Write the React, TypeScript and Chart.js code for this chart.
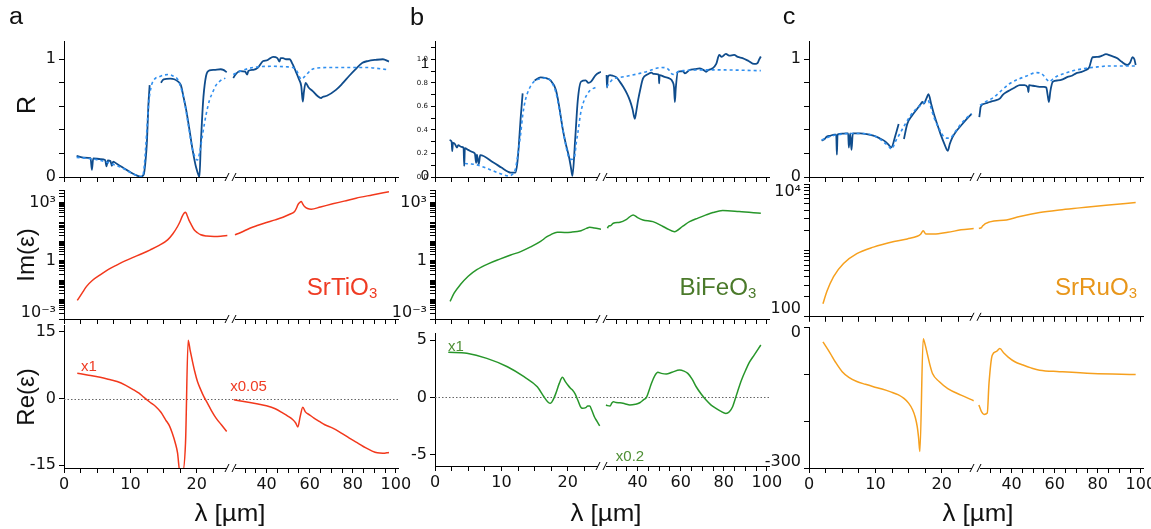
import React, { useEffect, useRef } from 'react';
import { Chart, registerables } from 'chart.js';

Chart.register(...registerables);

type Pt = [number, number | null];

// ---------------- axis ticks / labels ----------------
const X_LEFT_RANGE = [0, 25];
const X_RIGHT_RANGE = [23, 101];
const X_LEFT_TICKS = [0, 2.5, 5, 7.5, 10, 12.5, 15, 17.5, 20, 22.5];
const X_LEFT_LABELS = [0, 10, 20];
const X_RIGHT_TICKS = [30, 35, 40, 45, 50, 55, 60, 65, 70, 75, 80, 85, 90, 95, 100];
const X_RIGHT_LABELS = [40, 60, 80, 100];

const R_TICKS = [0, 0.2, 0.4, 0.6, 0.8, 1];
const R_LABELS = [0, 1];
const R_TICKS_FINE = [0, 0.1, 0.2, 0.3, 0.4, 0.5, 0.6, 0.7, 0.8, 0.9, 1, 1.1];
const R_LABELS_FINE = [0, 0.2, 0.4, 0.6, 0.8, 1];

const IM_LABEL_VALUES = [0.001, 1, 1000];
const IM_LABEL_TEXTS = ['10⁻³', '1', '10³'];
const IM_SRO_LABEL_VALUES = [100, 10000];
const IM_SRO_LABEL_TEXTS = ['100', '10⁴'];

const RE_STO_TICKS = [-15, 0, 15];
const RE_BFO_TICKS = [-5, 0, 5];
const RE_SRO_TICKS = [-300, -200, -100, 0];
const RE_SRO_LABELS = [-300, 0];

// ---------------- (a) SrTiO3 ----------------
const STO_R_MEAS_L: Pt[] = [[1.9,0.18],[3.0,0.165],[4.0,0.16],[4.2,0.06],[4.4,0.158],[5.5,0.152],[6.2,0.145],[6.4,0.09],[6.6,0.14],[7.0,0.135],[7.2,0.095],[7.4,0.13],[8.0,0.11],[9.0,0.075],[10.0,0.04],[11.0,0.012],[11.5,0.003],[12.0,0.02],[12.3,0.15],[12.5,0.31],[12.7,0.6],[12.9,0.78],[13.7,null],[14.6,0.8],[15.0,0.83],[16.0,0.835],[16.6,0.83],[17.2,0.81],[17.6,0.78],[18.0,0.68],[18.4,0.57],[18.9,0.4],[19.4,0.22],[19.9,0.08],[20.3,0.01],[20.4,0.0],[20.6,0.28],[20.8,0.5],[21.0,0.68],[21.4,0.86],[21.9,0.905],[22.6,0.91],[23.6,0.915],[24.0,0.91],[24.5,0.89]];
const STO_R_FIT_L: Pt[] = [[1.9,0.167],[4,0.155],[5.5,0.14],[7,0.115],[8,0.095],[9,0.07],[10.5,0.023],[11.5,0.003],[11.8,0.0],[12.1,0.1],[12.3,0.25],[12.6,0.5],[12.8,0.65],[13.1,0.76],[13.3,0.8],[13.8,0.84],[14.3,0.85],[15.0,0.865],[15.8,0.87],[16.5,0.855],[17.1,0.83],[17.6,0.76],[18.1,0.65],[18.7,0.45],[19.3,0.25],[19.8,0.16],[20.1,0.144],[20.4,0.2],[20.9,0.37],[21.4,0.53],[21.9,0.65],[22.4,0.72],[22.9,0.78],[23.6,0.82],[24.3,0.84]];
const STO_R_MEAS_R: Pt[] = [[24.5,0.84],[25.5,0.87],[27.6,0.9],[30,0.895],[31,0.87],[31.5,0.9],[33.8,0.91],[36,0.93],[38.4,0.985],[40,0.99],[41,1.0],[43,1.02],[45,1.01],[46,0.98],[46.5,1.01],[47.6,1.01],[49,1.0],[50.7,1.0],[52,0.96],[53.8,0.885],[55,0.83],[56.1,0.77],[56.8,0.64],[57.3,0.72],[58.1,0.8],[59.5,0.76],[61.4,0.73],[63.5,0.69],[65.3,0.67],[66,0.68],[68,0.69],[72.2,0.74],[75,0.79],[78.4,0.86],[81,0.91],[84.5,0.97],[87,0.985],[90.7,0.995],[94,1.0],[96.8,0.98]];
const STO_R_FIT_R: Pt[] = [[24.5,0.87],[28,0.9],[33.8,0.93],[43,0.94],[50,0.935],[52.2,0.93],[54,0.9],[56.1,0.83],[57.5,0.85],[60.7,0.91],[63,0.925],[70.6,0.93],[86,0.93],[96.8,0.91]];
const STO_IM_L: Pt[] = [[2.0,0.0091],[2.7,0.021],[3.4,0.048],[4.3,0.1],[5.45,0.19],[6.7,0.36],[8.0,0.62],[9.2,1.0],[10.5,1.55],[11.8,2.4],[13.0,3.7],[14.4,6.5],[15.6,12],[16.4,25],[17.1,59],[17.5,110],[17.8,195],[18.1,290],[18.3,324],[18.5,240],[18.8,129],[19.2,70],[19.6,40],[20.1,28],[20.6,22],[21.5,19],[22.6,18],[23.6,18.5],[24.6,20]];
const STO_IM_R: Pt[] = [[25.3,22],[28,29],[32.2,48],[36,68],[39.9,95],[44,130],[47.6,178],[51,260],[53,347],[54,560],[54.5,776],[55.3,1000],[56.1,1150],[56.8,850],[57.6,631],[59,500],[60.7,457],[65,600],[70.7,871],[76,1200],[81.5,1700],[89,2500],[96.8,3700]];
const STO_RE_L: Pt[] = [[2.0,5.67],[3.5,5.3],[5.45,4.78],[7,4.2],[8.0,3.8],[9.3,2.95],[10.5,1.94],[11.3,1.2],[12.0,0.3],[13,-0.9],[13.8,-1.79],[14.6,-3.1],[15.3,-4.78],[15.9,-6.2],[16.3,-7.76],[16.8,-10.2],[17.1,-12.2],[17.45,-16.5],[17.85,-16.5],[18.3,-10],[18.7,13.1],[19.0,10.8],[19.3,8.66],[19.7,6],[20.1,3.8],[20.6,1.94],[21.1,0.3],[21.6,-1.04],[22.2,-2.7],[22.9,-4.4],[23.7,-5.9],[24.5,-7.4]];
const STO_RE_R: Pt[] = [[24.8,-0.3],[28,-0.55],[32.2,-0.9],[36,-1.25],[39.9,-1.64],[44,-2.3],[47.6,-3.28],[50,-4.0],[52.2,-4.78],[53.5,-5.5],[54.5,-6.4],[55.6,-4.0],[56.8,-1.94],[58,-3.0],[59.9,-3.66],[62,-4.4],[64.5,-5.15],[67,-5.9],[70.7,-6.64],[74.5,-7.7],[78.4,-8.9],[82,-9.9],[86.1,-11.1],[89,-11.8],[91.4,-12.2],[94,-12.3],[96.8,-12.1]];

// ---------------- (b) BiFeO3 ----------------
const BFO_R_MEAS_L: Pt[] = [[2.2,0.314],[2.5,0.3],[2.6,0.22],[2.7,0.29],[3.0,0.28],[3.3,0.25],[3.5,0.27],[4.0,0.255],[4.3,0.25],[4.4,0.094],[4.5,0.245],[5.0,0.23],[5.5,0.215],[6.0,0.2],[6.2,0.12],[6.3,0.19],[6.6,0.11],[6.8,0.185],[8.8,0.123],[10,0.08],[11.0,0.045],[11.4,0.037],[12.1,0.037],[12.4,0.12],[12.6,0.25],[12.9,0.5],[13.2,0.71],[13.9,null],[15.0,0.82],[15.9,0.846],[16.7,0.84],[17.4,0.82],[18.2,0.74],[18.7,0.6],[19.2,0.42],[19.7,0.28],[20.2,0.166],[20.5,0.07],[20.7,0.01],[21.1,0.31],[21.5,0.65],[22.0,0.81],[22.7,0.82],[23.1,0.8],[23.5,0.81],[24.2,0.866],[25,0.894]];
const BFO_R_FIT_L: Pt[] = [[4.5,0.114],[5.5,0.11],[6.3,0.103],[7.5,0.08],[8.8,0.051],[10,0.025],[11.1,0.009],[11.6,0.02],[12.1,0.066],[12.5,0.2],[12.9,0.366],[13.2,0.52],[13.6,0.65],[14.2,0.75],[14.9,0.81],[15.9,0.835],[16.9,0.84],[17.6,0.8],[18.2,0.72],[18.7,0.58],[19.2,0.42],[19.7,0.27],[20.2,0.16],[20.6,0.15],[21.0,0.17],[21.3,0.3],[21.5,0.37],[22.0,0.56],[23.0,0.71],[24.5,0.77]];
const BFO_R_MEAS_R: Pt[] = [[25.6,0.866],[25.8,0.76],[26.2,0.85],[27.2,0.866],[28.5,0.86],[30.2,0.846],[31.7,0.81],[33.3,0.766],[35,0.71],[36.4,0.651],[37.6,0.58],[38.7,0.494],[39.4,0.56],[40.2,0.65],[41.3,0.75],[42.5,0.837],[44.5,0.87],[46.4,0.886],[47.5,0.875],[49.8,0.87],[50.0,0.795],[50.2,0.866],[52.5,0.85],[54.8,0.837],[56.2,0.81],[56.9,0.76],[57.3,0.637],[57.7,0.75],[58.7,0.894],[61,0.9],[62,0.88],[64.1,0.909],[66.5,0.915],[68.7,0.923],[70.5,0.91],[71.8,0.894],[73,0.91],[74.8,0.923],[76.5,0.96],[77.9,1.037],[79,1.02],[81.0,1.046],[82.5,1.03],[84.8,1.037],[86.5,1.02],[88.7,1.009],[91.5,0.985],[94.1,0.96],[95.6,0.966],[96.5,1.0],[97.2,1.023]];
const BFO_R_FIT_R: Pt[] = [[25.6,0.766],[27,0.8],[28.5,0.83],[31.8,0.846],[36,0.86],[41.0,0.88],[45,0.9],[48.7,0.923],[51,0.93],[53.3,0.925],[54.5,0.91],[55.6,0.88],[57,0.87],[58.7,0.894],[62,0.905],[67.2,0.909],[75,0.91],[82.5,0.909],[90,0.906],[97.2,0.903]];
const BFO_IM_L: Pt[] = [[2.27,0.0081],[2.9,0.022],[3.8,0.058],[5,0.16],[6.3,0.35],[8,0.7],[9.85,1.26],[11.4,2.0],[12.9,3.0],[14.4,5.2],[15.9,10],[16.8,17],[17.4,22],[18.4,30],[19.5,29],[20.5,30],[22.0,36],[22.8,47],[23.3,54],[24.0,50],[25.0,43]];
const BFO_IM_R: Pt[] = [[26.0,48],[26.4,59],[27.5,66],[28.7,87],[31.8,98],[34.9,139],[37.9,234],[40,170],[42.5,129],[47.1,105],[51.8,59],[53.3,48],[57.1,32],[61,62],[64.1,105],[68,160],[71.8,234],[75,310],[79.5,389],[87.1,347],[97.2,282]];
const BFO_RE_L: Pt[] = [[2.0,3.94],[4.8,3.85],[7.8,3.41],[10.9,2.68],[13.4,1.81],[15.4,0.93],[16.4,0.06],[17.0,-0.4],[17.4,-0.52],[17.8,-0.2],[18.2,0.35],[18.7,1.2],[19.2,1.75],[19.6,1.4],[20.0,1.08],[20.4,0.8],[20.7,0.64],[21.1,0.3],[21.5,-0.23],[21.9,-0.8],[22.2,-0.96],[22.7,-0.9],[23.0,-0.75],[23.3,-0.76],[23.6,-1.1],[24.0,-1.69],[24.4,-2.1],[24.8,-2.5]];
const BFO_RE_R: Pt[] = [[25.3,-0.67],[26.0,-0.72],[27.2,-0.76],[28.0,-0.5],[28.7,-0.38],[30,-0.45],[31.8,-0.47],[34,-0.55],[36.4,-0.67],[39,-0.6],[41.0,-0.47],[42.8,-0.2],[44.1,0],[45.3,0.6],[46.4,1.22],[48,1.9],[49.4,2.19],[51,2.1],[53.3,2.04],[56,2.2],[59.5,2.39],[61.5,2.3],[63.3,2.1],[65.3,1.6],[67.2,0.93],[69.5,0.3],[71.8,-0.23],[74,-0.65],[76.4,-0.96],[78.5,-1.2],[81.0,-1.4],[82.6,-1.25],[84.1,-0.82],[85.2,-0.2],[86.4,0.5],[88.2,1.5],[90.2,2.39],[92,3.1],[94.1,3.7],[97.2,4.58]];

// ---------------- (c) SrRuO3 ----------------
const SRO_R_MEAS_L: Pt[] = [[1.9,0.309],[2.3,0.32],[2.7,0.343],[3.2,0.35],[3.8,0.36],[4.1,0.36],[4.2,0.19],[4.3,0.36],[5.0,0.368],[5.5,0.37],[5.9,0.37],[6.0,0.25],[6.2,0.37],[6.4,0.23],[6.6,0.37],[7.7,0.371],[8.7,0.365],[9.7,0.351],[10.6,0.33],[11.3,0.309],[11.9,0.28],[12.4,0.251],[13.0,0.35],[13.5,0.451],[13.9,null],[14.3,0.323],[14.8,0.451],[15.5,0.52],[16.3,0.58],[16.7,0.61],[17.1,0.637],[17.3,0.623],[17.7,0.67],[18.0,0.703],[18.4,0.62],[18.8,0.537],[19.3,0.45],[19.8,0.366],[20.4,0.28],[20.9,0.223],[21.2,0.28],[21.6,0.337],[22.2,0.39],[22.9,0.437],[23.7,0.49],[24.5,0.537]];
const SRO_R_FIT_L: Pt[] = [[1.9,0.314],[3.5,0.35],[5.2,0.366],[7,0.37],[8.7,0.366],[10,0.345],[11.3,0.294],[12.0,0.26],[12.4,0.237],[13.1,0.31],[13.8,0.38],[14.5,0.45],[15.3,0.523],[16.0,0.57],[16.8,0.609],[17.4,0.635],[17.9,0.651],[18.3,0.6],[18.8,0.509],[19.6,0.41],[20.4,0.337],[20.9,0.33],[21.4,0.337],[22.1,0.39],[22.9,0.451],[23.7,0.5],[24.5,0.537]];
const SRO_R_MEAS_R: Pt[] = [[25.0,0.509],[25.3,0.55],[25.6,0.594],[27,0.62],[29.9,0.637],[31,0.645],[32.5,0.65],[34.5,0.666],[36,0.7],[37.5,0.72],[39.2,0.737],[41.5,0.76],[43.8,0.78],[46,0.78],[47.5,0.76],[47.8,0.72],[48.1,0.78],[50,0.775],[53.0,0.766],[55,0.765],[56.1,0.76],[56.7,0.7],[57.3,0.637],[58,0.73],[59.1,0.809],[61.5,0.82],[63.7,0.829],[66,0.85],[68,0.86],[69.9,0.88],[72,0.89],[74.5,0.909],[76,0.93],[77.6,1.017],[80,1.02],[82,1.03],[83.8,1.043],[86,1.03],[89.1,1.009],[91,0.98],[93.7,0.951],[95,0.97],[96.1,1.017],[97.0,1.0],[97.6,0.951]];
const SRO_R_FIT_R: Pt[] = [[25.3,0.609],[28,0.64],[31.5,0.674],[35,0.73],[39.2,0.794],[43,0.83],[46.9,0.857],[49,0.875],[51.5,0.886],[53.3,0.882],[54.6,0.866],[56,0.835],[57.6,0.809],[59,0.83],[61,0.855],[63.7,0.874],[68,0.9],[74.5,0.923],[80,0.935],[85.3,0.943],[90,0.943],[97.6,0.943]];
const SRO_IM_L: Pt[] = [[2.1,157],[2.7,242],[3.7,404],[5.2,635],[7.2,893],[9.7,1120],[12.8,1360],[14.8,1490],[16.3,1630],[16.8,1750],[17.2,1980],[17.6,1760],[18.8,1760],[20.9,1870],[22.9,2040],[24.8,2140]];
const SRO_IM_R: Pt[] = [[24.8,2140],[26.0,2200],[26.5,2340],[29.9,2690],[37.6,2880],[43.8,3240],[53.0,3720],[62.2,4070],[71.5,4370],[83.8,4790],[97.6,5250]];
const SRO_RE_L: Pt[] = [[2.1,-31.8],[3.2,-56],[4.0,-75],[5.0,-95],[6.0,-107],[7.2,-116],[8.5,-122],[9.7,-127],[11,-132],[12.3,-138],[13.4,-144],[14.3,-152],[15.0,-162],[15.6,-176],[16.0,-192],[16.3,-212],[16.5,-235],[16.7,-265],[17.2,-25],[17.5,-38],[17.8,-56],[18.2,-80],[18.6,-99],[19.6,-116],[20.9,-131],[22.9,-145],[24.8,-157]];
const SRO_RE_R: Pt[] = [[24.8,-166],[26.0,-180],[27.2,-186],[28.7,-183],[29.5,-120],[31.0,-60],[33,-52],[34.5,-46],[36.5,-56],[38.4,-64],[41.5,-74],[45.3,-81],[49,-87],[53.0,-92],[62.2,-95],[77.6,-99],[97.6,-101]];

// ---------------- styling ----------------
const C_MEAS = '#0f4c8c';
const C_FIT = '#2f8ff0';
const C_STO = '#f2381c';
const C_BFO = '#27962a';
const C_SRO = '#f6a01e';
const T_STO = '#ef3b23';
const T_BFO = '#4b7a2b';
const T_SRO = '#e8961a';
const T_BFO2 = '#4f8f35';

const FONT_TICK = '"DejaVu Sans", "Liberation Sans", Arial, sans-serif';
const FONT_TEXT = '"Liberation Sans", Arial, Helvetica, sans-serif';

const PLOT_W = 334;
const LEFT_W = 166;
const RIGHT_W = 168;
const YW = 64;
const PT = 22;
const PR = 20;
const XH_PLAIN = 16;
const XH_LABELS = 32;

type Series = { data: Pt[]; side: 'L' | 'R'; color: string; width: number; dash?: number[] };
type Spec = {
  x0: number; top: number; bottom: number; xLabels: boolean;
  y: any; series: Series[]; zeroLine?: boolean;
};
type YOpts = { size?: number; tickLen?: number; lineHeight?: number; shiftDown?: number[]; shiftUp?: number[] };

function near(list: number[], v: number) {
  return list.findIndex((l) => Math.abs(l - v) <= Math.abs(l) * 1e-6 + 1e-9);
}

function logTicks(min: number, max: number) {
  const out: number[] = [];
  for (let e = Math.floor(Math.log10(min)); e <= Math.ceil(Math.log10(max)); e++) {
    for (let m = 1; m <= 9; m++) {
      const v = m * Math.pow(10, e);
      if (v >= min * 0.9999 && v <= max * 1.0001) out.push(v);
    }
  }
  return out;
}

// end labels of some axes sit slightly inside the axis in the original figure:
// a two-line label with an empty line moves the text half a line up or down.
function placeLabel(v: number, text: string, o: YOpts) {
  if (o.shiftDown && near(o.shiftDown, v) >= 0) return ['', text];
  if (o.shiftUp && near(o.shiftUp, v) >= 0) return [text, ''];
  return text;
}

function linY(min: number, max: number, ticks: number[], labels: number[], fmt: (v: number) => string, o: YOpts = {}) {
  return {
    type: 'linear', min, max,
    afterBuildTicks: (s: any) => { s.ticks = ticks.map((v) => ({ value: v })); },
    tickLen: o.tickLen ?? 5,
    ticks: {
      font: { family: FONT_TICK, size: o.size ?? 16, lineHeight: o.lineHeight ?? 1.2 },
      callback: (v: number) => (near(labels, v) >= 0 ? placeLabel(v, fmt(v), o) : ''),
    },
  };
}

function logY(min: number, max: number, labelVals: number[], labelTexts: string[], o: YOpts = {}) {
  const tv = logTicks(min, max);
  return {
    type: 'logarithmic', min, max,
    afterBuildTicks: (s: any) => { s.ticks = tv.map((v) => ({ value: v })); },
    tickLen: 5,
    ticks: {
      font: { family: FONT_TICK, size: 16, lineHeight: o.lineHeight ?? 1.2 },
      callback: (v: number) => { const i = near(labelVals, v); return i >= 0 ? placeLabel(v, labelTexts[i], o) : ''; },
    },
  };
}

const breakPlugin = {
  id: 'axisBreak',
  afterDraw(chart: any) {
    const xL = chart.scales.xL;
    const ctx = chart.ctx;
    const bx = xL.right + 1;
    const y = chart.chartArea.bottom;
    ctx.save();
    ctx.fillStyle = '#ffffff';
    ctx.fillRect(bx - 4, y - 1.5, 8, 3);
    ctx.strokeStyle = '#000';
    ctx.lineWidth = 1;
    ctx.beginPath();
    ctx.moveTo(bx - 6, y + 4); ctx.lineTo(bx - 2, y - 4);
    ctx.moveTo(bx + 1, y + 4); ctx.lineTo(bx + 5, y - 4);
    ctx.stroke();
    ctx.restore();
  },
};

const zeroPlugin = {
  id: 'zeroLine',
  beforeDatasetsDraw(chart: any) {
    const on = chart.options.plugins.zeroLine && chart.options.plugins.zeroLine.on;
    if (!on) return;
    const y = Math.round(chart.scales.y.getPixelForValue(0)) + 0.5;
    const ctx = chart.ctx;
    const a = chart.chartArea;
    ctx.save();
    ctx.strokeStyle = '#666';
    ctx.lineWidth = 1;
    ctx.setLineDash([1.5, 2]);
    ctx.beginPath();
    ctx.moveTo(a.left, y); ctx.lineTo(a.right, y);
    ctx.stroke();
    ctx.restore();
  },
};

function makeConfig(spec: Spec) {
  const xh = spec.xLabels ? XH_LABELS : XH_PLAIN;
  const xAxis = (ticks: number[], labels: number[], range: number[], weight: number) => ({
    type: 'linear', position: 'bottom', stack: 'x', stackWeight: weight,
    min: range[0], max: range[1],
    afterBuildTicks: (s: any) => { s.ticks = ticks.map((v) => ({ value: v })); },
    afterFit: (s: any) => { s.height = xh; },
    border: { display: true, color: '#000', width: 1 },
    grid: { display: true, drawOnChartArea: false, drawTicks: true, tickLength: 5, tickColor: '#000', tickWidth: 1 },
    ticks: {
      autoSkip: false, maxRotation: 0, minRotation: 0, padding: 2, color: '#111',
      font: { family: FONT_TICK, size: 16 },
      callback: (v: number) => (spec.xLabels && labels.includes(v) ? String(v) : ''),
    },
  });
  const yy = spec.y;
  const yAxis = {
    type: yy.type, min: yy.min, max: yy.max, position: 'left',
    afterBuildTicks: yy.afterBuildTicks,
    afterFit: (s: any) => { s.width = YW; },
    border: { display: true, color: '#000', width: 1 },
    grid: { display: true, drawOnChartArea: false, drawTicks: true, tickLength: yy.tickLen, tickColor: '#000', tickWidth: 1 },
    ticks: { autoSkip: false, padding: 3, color: '#111', ...yy.ticks },
  };
  return {
    type: 'line',
    data: {
      datasets: spec.series.map((s) => ({
        data: s.data.map(([x, y]) => ({ x, y })),
        xAxisID: s.side === 'L' ? 'xL' : 'xR',
        yAxisID: 'y',
        borderColor: s.color,
        borderWidth: s.width,
        borderDash: s.dash || [],
        pointRadius: 0,
        fill: false,
        cubicInterpolationMode: 'monotone',
        spanGaps: false,
      })),
    },
    options: {
      responsive: false,
      animation: false,
      devicePixelRatio: 1,
      layout: { padding: { top: PT, right: PR, bottom: 0, left: 0 } },
      scales: {
        xL: xAxis(X_LEFT_TICKS, X_LEFT_LABELS, X_LEFT_RANGE, LEFT_W),
        xR: xAxis(X_RIGHT_TICKS, X_RIGHT_LABELS, X_RIGHT_RANGE, RIGHT_W),
        y: yAxis,
      },
      plugins: { legend: { display: false }, tooltip: { enabled: false }, zeroLine: { on: !!spec.zeroLine } },
      events: [],
    },
    plugins: [breakPlugin, zeroPlugin],
  };
}

function Panel({ spec }: { spec: Spec }) {
  const ref = useRef<HTMLCanvasElement>(null);
  const xh = spec.xLabels ? XH_LABELS : XH_PLAIN;
  const w = YW + PLOT_W + PR;
  const h = PT + (spec.bottom - spec.top) + xh;
  useEffect(() => {
    const chart = new Chart(ref.current as HTMLCanvasElement, makeConfig(spec) as any);
    return () => chart.destroy();
  }, []);
  return (
    <canvas
      ref={ref}
      width={w}
      height={h}
      style={{ position: 'absolute', left: spec.x0 - YW, top: spec.top - PT, width: w, height: h }}
    />
  );
}

function Txt(props: { x: number; y: number; size: number; color?: string; rot?: boolean; sx?: number; children: any }) {
  const { x, y, size, color = '#111', rot = false, sx = 1, children } = props;
  const tf = rot ? 'translate(-50%,-50%) rotate(-90deg)' : `translate(-50%,-50%) scaleX(${sx})`;
  return (
    <div style={{ position: 'absolute', left: x, top: y, transform: tf, fontFamily: FONT_TEXT, fontSize: size, lineHeight: 1, color, whiteSpace: 'nowrap' }}>
      {children}
    </div>
  );
}

const Sub = ({ children }: { children: any }) => (
  <span style={{ fontSize: '0.62em', verticalAlign: '-0.25em', lineHeight: 0 }}>{children}</span>
);

const COL = [64, 435, 809];

const meas = (d: Pt[], side: 'L' | 'R'): Series => ({ data: d, side, color: C_MEAS, width: 1.8 });
const fit = (d: Pt[], side: 'L' | 'R'): Series => ({ data: d, side, color: C_FIT, width: 1.6, dash: [3, 3] });
const ln = (d: Pt[], side: 'L' | 'R', color: string): Series => ({ data: d, side, color, width: 1.5 });

const fmtInt = (v: number) => String(v);
const fmtFixed = (v: number) => v.toFixed(1);

const SPECS: Spec[] = [
  // row 1: reflectance
  { x0: COL[0], top: 41, bottom: 177, xLabels: false, y: linY(0, 1.155, R_TICKS, R_LABELS, fmtInt),
    series: [fit(STO_R_FIT_L, 'L'), fit(STO_R_FIT_R, 'R'), meas(STO_R_MEAS_L, 'L'), meas(STO_R_MEAS_R, 'R')] },
  { x0: COL[1], top: 41, bottom: 177, xLabels: false, y: linY(0, 1.155, R_TICKS_FINE, R_LABELS_FINE, fmtFixed, { size: 7, tickLen: 4 }),
    series: [fit(BFO_R_FIT_L, 'L'), fit(BFO_R_FIT_R, 'R'), meas(BFO_R_MEAS_L, 'L'), meas(BFO_R_MEAS_R, 'R')] },
  { x0: COL[2], top: 41, bottom: 177, xLabels: false, y: linY(0, 1.155, R_TICKS, R_LABELS, fmtInt),
    series: [fit(SRO_R_FIT_L, 'L'), fit(SRO_R_FIT_R, 'R'), meas(SRO_R_MEAS_L, 'L'), meas(SRO_R_MEAS_R, 'R')] },
  // row 2: Im(eps)
  { x0: COL[0], top: 190, bottom: 319, xLabels: false,
    y: logY(0.001, 4500, IM_LABEL_VALUES, IM_LABEL_TEXTS, { lineHeight: 0.75, shiftUp: [0.001] }),
    series: [ln(STO_IM_L, 'L', C_STO), ln(STO_IM_R, 'R', C_STO)] },
  { x0: COL[1], top: 190, bottom: 319, xLabels: false,
    y: logY(0.001, 4500, IM_LABEL_VALUES, IM_LABEL_TEXTS, { lineHeight: 0.75, shiftUp: [0.001] }),
    series: [ln(BFO_IM_L, 'L', C_BFO), ln(BFO_IM_R, 'R', C_BFO)] },
  { x0: COL[2], top: 184, bottom: 319, xLabels: false,
    y: logY(100, 10000, IM_SRO_LABEL_VALUES, IM_SRO_LABEL_TEXTS, { lineHeight: 0.95, shiftUp: [100], shiftDown: [10000] }),
    series: [ln(SRO_IM_L, 'L', C_SRO), ln(SRO_IM_R, 'R', C_SRO)] },
  // row 3: Re(eps)
  { x0: COL[0], top: 325, bottom: 468, xLabels: true, zeroLine: true, y: linY(-15.6, 16.5, RE_STO_TICKS, RE_STO_TICKS, fmtInt),
    series: [ln(STO_RE_L, 'L', C_STO), ln(STO_RE_R, 'R', C_STO)] },
  { x0: COL[1], top: 333, bottom: 466, xLabels: true, zeroLine: true, y: linY(-6.0, 5.63, RE_BFO_TICKS, RE_BFO_TICKS, fmtInt),
    series: [ln(BFO_RE_L, 'L', C_BFO), ln(BFO_RE_R, 'R', C_BFO)] },
  { x0: COL[2], top: 327, bottom: 468, xLabels: true,
    y: linY(-300, 0, RE_SRO_TICKS, RE_SRO_LABELS, fmtInt, { lineHeight: 0.75, shiftUp: [-300], shiftDown: [0] }),
    series: [ln(SRO_RE_L, 'L', C_SRO), ln(SRO_RE_R, 'R', C_SRO)] },
];

export default function App() {
  return (
    <div style={{ position: 'absolute', left: 0, top: 0, width: 1151, height: 529, background: '#fff', overflow: 'hidden' }}>
      {SPECS.map((s, i) => <Panel key={i} spec={s} />)}

      <Txt x={16} y={16} size={23} sx={1.1}>a</Txt>
      <Txt x={416.5} y={17} size={23} sx={1.1}>b</Txt>
      <Txt x={789} y={16} size={23} sx={1.1}>c</Txt>

      <Txt x={26} y={105} size={25} rot>R</Txt>
      <Txt x={26} y={255} size={24} rot>Im(ε)</Txt>
      <Txt x={26} y={397} size={24} rot>Re(ε)</Txt>

      <Txt x={229.5} y={512.5} size={24} sx={1.08}>λ [µm]</Txt>
      <Txt x={606} y={512.5} size={24} sx={1.08}>λ [µm]</Txt>
      <Txt x={978} y={512.5} size={24} sx={1.08}>λ [µm]</Txt>

      <Txt x={341.5} y={287} size={23} sx={1.05} color={T_STO}>SrTiO<Sub>3</Sub></Txt>
      <Txt x={718} y={287} size={23} sx={1.05} color={T_BFO}>BiFeO<Sub>3</Sub></Txt>
      <Txt x={1095.5} y={287} size={23} sx={1.05} color={T_SRO}>SrRuO<Sub>3</Sub></Txt>

      <Txt x={89} y={365} size={15} color={T_STO}>x1</Txt>
      <Txt x={248.5} y={385} size={15} color={T_STO}>x0.05</Txt>
      <Txt x={456} y={345} size={15} color={T_BFO2}>x1</Txt>
      <Txt x={630} y={455} size={15} color={T_BFO2}>x0.2</Txt>

      <Txt x={425} y={62} size={15}>1</Txt>
      <Txt x={425} y={174} size={15}>0</Txt>
    </div>
  );
}
